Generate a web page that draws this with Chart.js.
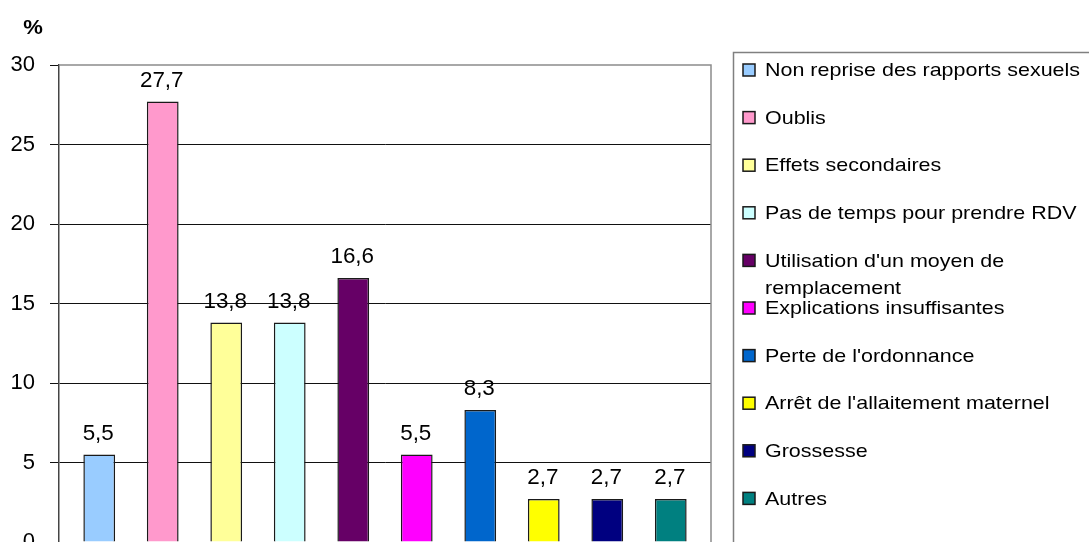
<!DOCTYPE html>
<html>
<head>
<meta charset="utf-8">
<script src="https://cdn.jsdelivr.net/npm/chart.js@4.4.1/dist/chart.umd.min.js"></script>
<style>
    body { margin: 0; background: #fff; }
    #wrap { width: 1089px; height: 542px; }
</style>
</head>
<body>
<div id="wrap"><canvas id="raisonsChart" width="1089" height="542"></canvas></div>
<script>
// données
const categories = [
    'Non reprise des rapports sexuels',
    'Oublis',
    'Effets secondaires',
    'Pas de temps pour prendre RDV',
    "Utilisation d'un moyen de remplacement",
    'Explications insuffisantes',
    "Perte de l'ordonnance",
    "Arrêt de l'allaitement maternel",
    'Grossesse',
    'Autres'
];
const values = [5.5, 27.7, 13.8, 13.8, 16.6, 5.5, 8.3, 2.7, 2.7, 2.7];
const colors = ['#99CCFF', '#FF99CC', '#FFFF99', '#CCFFFF', '#660066', '#FF00FF', '#0066CC', '#FFFF00', '#000080', '#008080'];
const yMin = 0, yMax = 30, yStep = 5;
const yUnit = '%';

const FONT = "'Liberation Sans', Arial, sans-serif";

// texte étiré horizontalement (le rendu d'origine est plus large que haut)
function drawText(ctx, text, x, y, sx) {
    ctx.save();
    ctx.translate(x, y);
    ctx.scale(sx, 1);
    ctx.fillText(text, 0, 0);
    ctx.restore();
}

function wrapWords(ctx, text, maxW, sx) {
    const words = text.split(' ');
    const lines = [];
    let cur = '';
    words.forEach(function (w) {
        const test = cur ? cur + ' ' + w : w;
        if (cur && ctx.measureText(test).width * sx > maxW) {
            lines.push(cur);
            cur = w;
        } else {
            cur = test;
        }
    });
    if (cur) lines.push(cur);
    return lines;
}

// cadre gris, valeurs au-dessus des barres, titre "%"
const decorPlugin = {
    id: 'decor',
    afterDatasetsDraw(chart) {
        const ctx = chart.ctx;
        const a = chart.chartArea;

        ctx.save();
        ctx.strokeStyle = '#8c8c8c';
        ctx.lineWidth = 1.5;
        ctx.beginPath();
        ctx.moveTo(a.left, a.top);
        ctx.lineTo(a.right, a.top);
        ctx.lineTo(a.right, a.bottom + 2);
        ctx.stroke();

        ctx.fillStyle = '#000';
        ctx.font = '22px ' + FONT;
        ctx.textAlign = 'center';
        ctx.textBaseline = 'alphabetic';
        chart.data.datasets.forEach(function (ds, i) {
            const bar = chart.getDatasetMeta(i).data[0];
            const txt = String(ds.data[0]).replace('.', ',');
            drawText(ctx, txt, bar.x - 1, bar.y - 15, 1.02);
        });

        ctx.font = 'bold 21px ' + FONT;
        ctx.textBaseline = 'middle';
        drawText(ctx, yUnit, 33, 28, 1.05);
        ctx.restore();
    }
};

// légende encadrée à droite
const legendPlugin = {
    id: 'boxLegend',
    afterDraw(chart) {
        const ctx = chart.ctx;
        const left = 733.5, top = 52.5;
        const sx = 1.13;
        ctx.save();
        ctx.strokeStyle = '#808080';
        ctx.lineWidth = 1.5;
        ctx.strokeRect(left, top, 500, 600);

        ctx.font = '19px ' + FONT;
        ctx.textAlign = 'left';
        ctx.textBaseline = 'middle';
        chart.data.datasets.forEach(function (ds, i) {
            const y = 70 + 47.6 * i;
            ctx.fillStyle = ds.backgroundColor;
            ctx.fillRect(743, y - 6, 12, 12);
            ctx.strokeStyle = '#1a1a1a';
            ctx.lineWidth = 1.5;
            ctx.strokeRect(743, y - 6, 12, 12);

            ctx.fillStyle = '#000';
            const lines = wrapWords(ctx, ds.label, 320, sx);
            lines.forEach(function (ln, k) {
                drawText(ctx, ln, 765, y + 1 + k * 27, sx);
            });
        });
        ctx.restore();
    }
};

const ctx = document.getElementById('raisonsChart').getContext('2d');
const raisonsChart = new Chart(ctx, {
    type: 'bar',
    data: {
        labels: [''],
        datasets: categories.map(function (c, i) {
            return {
                label: c,
                data: [values[i]],
                backgroundColor: colors[i],
                borderColor: '#1a1a1a',
                borderWidth: 1.5,
                categoryPercentage: 0.974,
                barPercentage: 0.5
            };
        })
    },
    options: {
        responsive: false,
        animation: false,
        layout: {
            padding: { top: 65, right: 378, bottom: 0, left: 0 }
        },
        scales: {
            x: {
                display: false
            },
            y: {
                min: yMin,
                max: yMax,
                afterFit: function (scale) {
                    scale.width = 59;
                    scale.paddingTop = 0;
                    scale.paddingBottom = 0;
                },
                ticks: {
                    stepSize: yStep,
                    color: '#000',
                    padding: 15,
                    font: { size: 22, family: FONT }
                },
                grid: {
                    color: function (c) { return c.tick && c.tick.value === yMax ? 'rgba(0,0,0,0)' : '#111'; },
                    tickColor: '#111',
                    tickLength: 9,
                    lineWidth: 1
                },
                border: {
                    color: '#444',
                    width: 1.5
                }
            }
        },
        plugins: {
            legend: { display: false },
            tooltip: { enabled: false }
        }
    },
    plugins: [decorPlugin, legendPlugin]
});
</script>
</body>
</html>
